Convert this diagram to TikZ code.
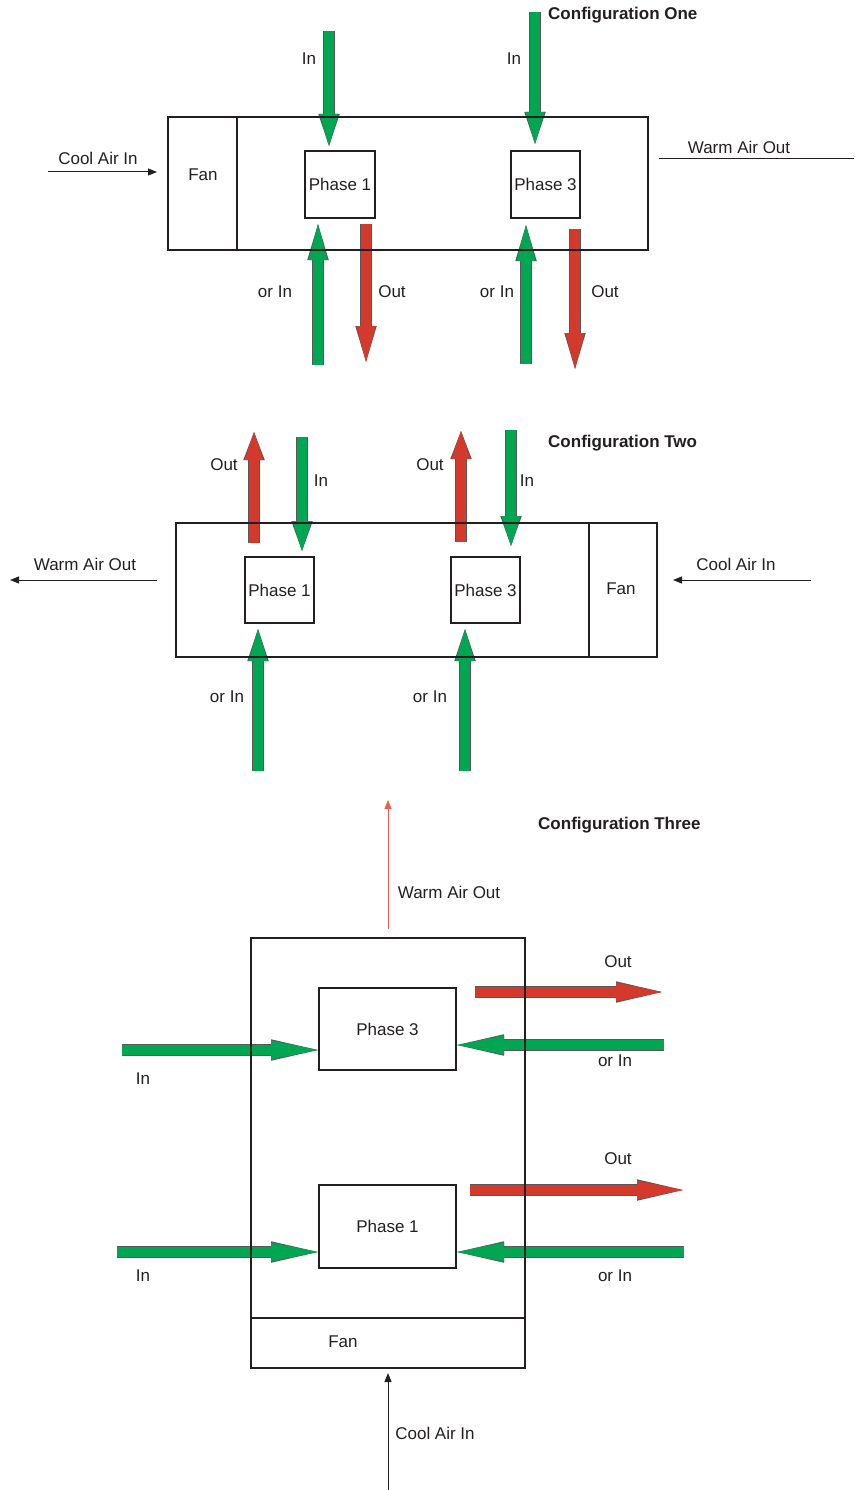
\documentclass[tikz,border=0pt]{standalone}
\usepackage{fontspec}
\setmainfont{Liberation Sans}
\usetikzlibrary{arrows.meta}
\definecolor{ink}{HTML}{231F20}
\definecolor{grn}{HTML}{00A651}
\definecolor{rd}{HTML}{D43A2B}
\definecolor{warm}{HTML}{E8604E}

\begin{document}
\begin{tikzpicture}[x=1pt,y=-1pt,font=\fontsize{17}{20}\selectfont,
  lbl/.style={inner sep=0pt,text=ink},
  ttl/.style={lbl,anchor=west,font=\fontsize{17}{20}\selectfont\bfseries},
  phase/.style={draw=ink,line width=2pt,inner sep=0pt,text=ink},
  unit/.style={draw=ink,line width=2pt,inner sep=0pt},
  fat/.style={line width=10pt,-{Triangle[length=#1,width=19pt,line width'=0pt]},
    preaction={draw=ink!75,line width=11.5pt,-{Triangle[length=#1,width=21.5pt,line width'=0pt]}}},
  fatin/.style={fat=#1,draw=grn},fatin/.default=32pt,
  fatout/.style={fat=#1,draw=rd},fatout/.default=32pt,
  air/.style={draw=ink,line width=1pt,-{Triangle[length=9pt,width=7pt]}}]
\useasboundingbox (0,0) rectangle (854,1490);

% configuration one
\node[ttl] (ttlA) at (548,15) {Configuration One};
\node[phase,minimum width=70pt,minimum height=67pt] (phA1) at (340,184.5) {Phase 1};
\node[phase,minimum width=69pt,minimum height=67pt] (phA3) at (545.5,184.5) {Phase 3};
\coordinate (inA1) at (329,31);
\coordinate (inA3) at (535,12);
\coordinate (orA1) at (318,365);
\coordinate (orA3) at (526,364);
\coordinate (outA1) at (366,362);
\coordinate (outA3) at (575,369);
\draw[fatin,shorten >=4pt] (inA1) -- (inA1 |- phA1.north);
\draw[fatin,shorten >=6pt] (inA3) -- (inA3 |- phA3.north);
\draw[fatin=36pt,shorten >=5pt] (orA1) -- (orA1 |- phA1.south);
\draw[fatin=36pt,shorten >=6pt] (orA3) -- (orA3 |- phA3.south);
\draw[fatout=36pt,shorten <=5pt] (outA1 |- phA1.south) -- (outA1);
\draw[fatout=36pt,shorten <=10pt] (outA3 |- phA3.south) -- (outA3);
\node[unit,minimum width=480pt,minimum height=133pt] (unitA) at (408,183.5) {};
\node[unit,minimum width=69pt,minimum height=133pt] (fanA) at (202.5,183.5) {};
\node[lbl] (fanAt) at (203,175) {Fan};
\node[lbl] (lInA1) at (309,59) {In};
\node[lbl] (lInA3) at (514,59) {In};
\node[lbl] (lOrA1) at (275,292) {or In};
\node[lbl] (lOutA1) at (392,292) {Out};
\node[lbl] (lOrA3) at (497,292) {or In};
\node[lbl] (lOutA3) at (605,292) {Out};
\coordinate (coolA) at (48,172);
\draw[air,shorten >=10pt] (coolA) -- (coolA -| unitA.west);
\node[lbl] (lCoolA) at (98,158) {Cool Air In};
\coordinate (warmA) at (854,159);
\draw[draw=ink,line width=1pt,shorten <=10pt] (warmA -| unitA.east) -- (warmA);
\node[lbl] (lWarmA) at (739,147) {Warm Air Out};

% configuration two
\node[ttl] (ttlB) at (548,443) {Configuration Two};
\node[phase,minimum width=69pt,minimum height=66pt] (phB1) at (279.5,590) {Phase 1};
\node[phase,minimum width=69pt,minimum height=66pt] (phB3) at (485.5,590) {Phase 3};
\coordinate (outB1) at (254,432);
\coordinate (outB3) at (461,431);
\coordinate (inB1) at (302,437);
\coordinate (inB3) at (511,430);
\coordinate (orB1) at (258,771);
\coordinate (orB3) at (465,771);
\draw[fatout=28pt,shorten <=13pt] (outB1 |- phB1.north) -- (outB1);
\draw[fatout=28pt,shorten <=14pt] (outB3 |- phB3.north) -- (outB3);
\draw[fatin=30pt,shorten >=5pt] (inB1) -- (inB1 |- phB1.north);
\draw[fatin=30pt,shorten >=10pt] (inB3) -- (inB3 |- phB3.north);
\draw[fatin,shorten >=5pt] (orB1) -- (orB1 |- phB1.south);
\draw[fatin,shorten >=5pt] (orB3) -- (orB3 |- phB3.south);
\node[unit,minimum width=481pt,minimum height=134pt] (unitB) at (416.5,590) {};
\node[unit,minimum width=68pt,minimum height=134pt] (fanB) at (623,590) {};
\node[lbl] (fanBt) at (621,589) {Fan};
\node[lbl] (lOutB1) at (224,465) {Out};
\node[lbl] (lInB1) at (321,481) {In};
\node[lbl] (lOutB3) at (430,465) {Out};
\node[lbl] (lInB3) at (527,481) {In};
\node[lbl] (lOrB1) at (227,697) {or In};
\node[lbl] (lOrB3) at (430,697) {or In};
\coordinate (warmB) at (10,580);
\draw[air,shorten <=18pt] (warmB -| unitB.west) -- (warmB);
\node[lbl] (lWarmB) at (85,564) {Warm Air Out};
\coordinate (coolB) at (811,580);
\draw[air,shorten >=15pt] (coolB) -- (coolB -| unitB.east);
\node[lbl] (lCoolB) at (736,564) {Cool Air In};

% configuration three
\node[ttl] (ttlC) at (538,825) {Configuration Three};
\node[phase,minimum width=137pt,minimum height=82pt] (phC3) at (387.5,1029) {Phase 3};
\node[phase,minimum width=137pt,minimum height=83pt] (phC1) at (387.5,1226.5) {Phase 1};
\coordinate (inC3) at (122,1050);
\coordinate (orC3) at (664,1045);
\coordinate (outC3) at (662,992);
\coordinate (inC1) at (117,1252);
\coordinate (orC1) at (684,1252);
\coordinate (outC1) at (683,1190);
\draw[fatin=47pt] (inC3) -- (inC3 -| phC3.west);
\draw[fatin=47pt] (orC3) -- (orC3 -| phC3.east);
\draw[fatout=46pt,shorten <=18pt] (outC3 -| phC3.east) -- (outC3);
\draw[fatin=47pt] (inC1) -- (inC1 -| phC1.west);
\draw[fatin=47pt] (orC1) -- (orC1 -| phC1.east);
\draw[fatout=46pt,shorten <=13pt] (outC1 -| phC1.east) -- (outC1);
\node[unit,minimum width=274pt,minimum height=430pt] (unitC) at (388,1153) {};
\node[unit,minimum width=274pt,minimum height=50pt] (fanC) at (388,1343) {};
\node[lbl] (fanCt) at (343,1342) {Fan};
\node[lbl] (lOutC3) at (618,962) {Out};
\node[lbl] (lOrC3) at (615,1061) {or In};
\node[lbl] (lInC3) at (143,1079) {In};
\node[lbl] (lOutC1) at (618,1159) {Out};
\node[lbl] (lInC1) at (143,1276) {In};
\node[lbl] (lOrC1) at (615,1276) {or In};
\coordinate (warmC) at (388,800);
\draw[air,draw=warm,shorten <=8pt] (warmC |- unitC.north) -- (warmC);
\node[lbl] (lWarmC) at (449,892) {Warm Air Out};
\coordinate (coolC) at (388,1490);
\draw[air,shorten >=4pt] (coolC) -- (coolC |- unitC.south);
\node[lbl] (lCoolC) at (435,1433) {Cool Air In};
\end{tikzpicture}
\end{document}
